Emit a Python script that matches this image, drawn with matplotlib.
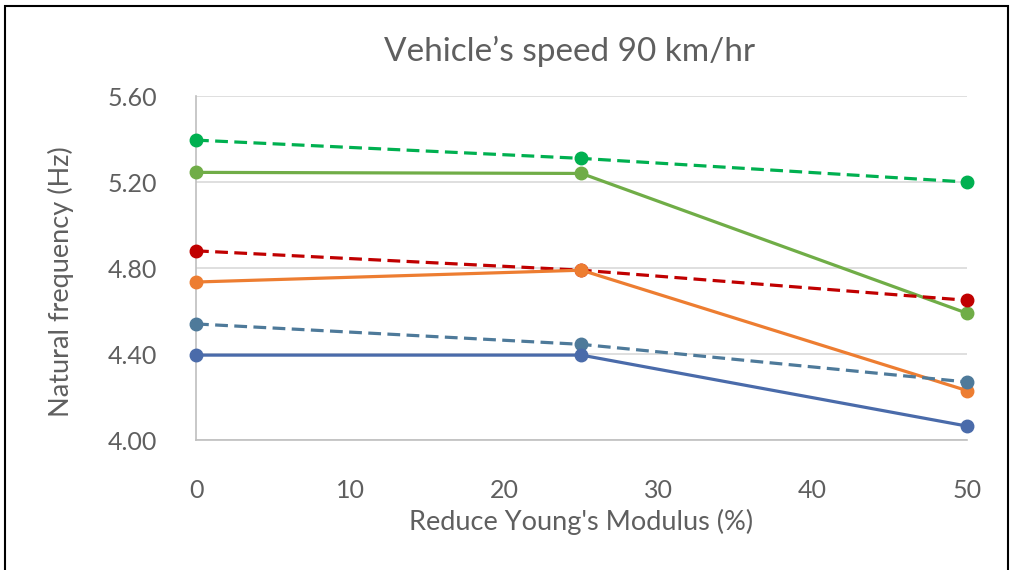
import matplotlib
matplotlib.use("Agg")
import matplotlib.pyplot as plt

x_vals = [0, 25, 50]
green_dashed = [5.395, 5.31, 5.20]
green_solid = [5.245, 5.24, 4.59]
red_dashed = [4.88, 4.79, 4.65]
orange_solid = [4.735, 4.79, 4.23]
steel_dashed = [4.54, 4.445, 4.27]
blue_solid = [4.395, 4.395, 4.065]

x_ticks = [0, 10, 20, 30, 40, 50]
y_ticks = [4.00, 4.40, 4.80, 5.20, 5.60]

plt.rcParams['font.family'] = ['Lato', 'DejaVu Sans']

TXT = '#5F5F5F'

fig = plt.figure(figsize=(10.13, 5.70), dpi=100)
ax = fig.add_axes([0.1935, 0.228, 0.761, 0.6035])

series = [
    (green_dashed, '#00B050', '--'),
    (green_solid, '#70AD47', '-'),
    (red_dashed, '#C00000', '--'),
    (orange_solid, '#ED7D31', '-'),
    (steel_dashed, '#4E7A9A', '--'),
    (blue_solid, '#4A6BAA', '-'),
]
for vals, col, ls in series:
    line, = ax.plot(x_vals, vals, color=col, linestyle=ls, linewidth=2.3,
                    marker='o', markersize=9, clip_on=False, zorder=3)
    if ls == '--':
        line.set_dashes((4, 2))

ax.set_xlim(0, 50)
ax.set_ylim(4.0, 5.6)
ax.set_xticks(x_ticks)
ax.set_yticks(y_ticks)
ax.set_yticklabels([f"{v:.2f}" for v in y_ticks])
ax.grid(axis='y', color='#D9D9D9', linewidth=1.2)
ax.set_axisbelow(True)
for s in ['top', 'right']:
    ax.spines[s].set_visible(False)
ax.spines['left'].set_color('#BFBFBF')
ax.spines['bottom'].set_color('#BFBFBF')
ax.spines['left'].set_linewidth(1.2)
ax.spines['bottom'].set_linewidth(1.2)
ax.tick_params(axis='both', length=0, labelsize=18, colors=TXT)
ax.tick_params(axis='x', pad=28)
ax.tick_params(axis='y', pad=28)

ax.set_xlabel("Reduce Young's Modulus (%)", fontsize=19.5, color=TXT, labelpad=5)
ax.set_ylabel("Natural frequency (Hz)", fontsize=19.5, color=TXT)
ax.yaxis.set_label_coords(-0.158, 0.46)
title = ax.set_title("Vehicle\u2019s speed 90 km/hr", fontsize=24, color=TXT, pad=25)
title.set_x(0.485)

# outer border
border = plt.Rectangle((0.005, -0.05), 0.99, 1.04, transform=fig.transFigure,
                       fill=False, edgecolor='black', linewidth=1.5)
fig.patches.append(border)

fig.savefig("out.png", dpi=100)
